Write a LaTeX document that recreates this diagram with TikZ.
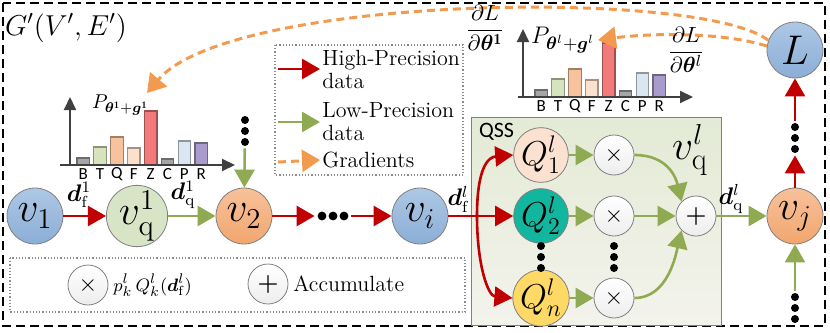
\documentclass[tikz,border=0pt]{standalone}
\usepackage{amsmath}
\usepackage{bm}
\usepackage{fontspec}
\newfontfamily\barfont{Carlito}
\usetikzlibrary{arrows.meta,calc}

\definecolor{hpred}{HTML}{C00000}
\definecolor{lpgreen}{HTML}{8FAA52}
\definecolor{gradorange}{HTML}{F29B4F}
\definecolor{nblueT}{HTML}{AEC7E5}
\definecolor{nblueB}{HTML}{8BAED7}
\definecolor{ngreen}{HTML}{D8E4C6}
\definecolor{norangeT}{HTML}{F7C19A}
\definecolor{norangeB}{HTML}{F2A66F}
\definecolor{qpeach}{HTML}{FBE1CF}
\definecolor{qteal}{HTML}{12B59D}
\definecolor{qyellow}{HTML}{FFD966}
\definecolor{qssT}{HTML}{E3EAD5}
\definecolor{qssB}{HTML}{F3F3EC}
\definecolor{barB}{HTML}{A6A6A6}
\definecolor{barT}{HTML}{D6E3BE}
\definecolor{barQ}{HTML}{F6C39E}
\definecolor{barF}{HTML}{FBE1CC}
\definecolor{barZ}{HTML}{F37A7A}
\definecolor{barP}{HTML}{DAE6F2}
\definecolor{barR}{HTML}{A99BCB}

% bars of one selection histogram, #1 name prefix, #2 offset of the y axis
\newcommand{\drawhist}[2]{%
  \foreach \lab/\h/\col [count=\i from 0] in {B/7/barB,T/18/barT,Q/28/barQ,F/17/barF,Z/54/barZ,C/6/barB,P/24/barP,R/22/barR}{
    \draw[draw=\col!65!black, fill=\col, line width=0.6pt] (\i*16.85,0) rectangle ++(12.5,-\h);
    \node[barlab] (#1-\lab) at (\i*16.85+6.25,9) {\lab};
  }
  \draw[axis] (#2,0) -- (#2,-68);
  \draw[axis] (-17,0) -- (158,0);
}

\begin{document}
\begin{tikzpicture}[x=0.5pt, y=-0.5pt,
  font=\fontsize{11}{11.5}\selectfont,
  vnode/.style={circle, draw=black!50, minimum size=28pt, inner sep=0pt, font=\fontsize{21}{24}\selectfont},
  vblue/.style={vnode, top color=nblueT, bottom color=nblueB},
  vgreen/.style={vnode, fill=ngreen},
  vorange/.style={vnode, top color=norangeT, bottom color=norangeB},
  qnode/.style={circle, draw=black!50, minimum size=23pt, inner sep=0pt, font=\fontsize{17}{19}\selectfont},
  opnode/.style={circle, draw=black!50, top color=white, bottom color=black!7, minimum size=20pt, inner sep=0pt, font=\large},
  hp/.style={draw=hpred, line width=1.3pt, -{Triangle[length=9pt,width=10pt]}},
  lp/.style={draw=lpgreen, line width=1.3pt, -{Triangle[length=9pt,width=10pt]}},
  grad/.style={draw=gradorange, line width=1.5pt, dash pattern=on 4pt off 2.5pt, -{Triangle[length=9pt,width=11pt]}},
  axis/.style={draw=black!75, line width=1pt, -{Triangle[length=6.5pt,width=6pt]}},
  barlab/.style={font=\barfont\fontsize{8.5}{9}\selectfont, inner sep=0pt},
  dlab/.style={font=\fontsize{12}{14}\selectfont, inner sep=0pt},
  lbox/.style={draw=black!45, densely dotted, line width=0.6pt},
  dotsv/.style={minimum width=6pt, minimum height=17pt, inner sep=0pt,
    path picture={\foreach \k in {-1,0,1} \fill ($(path picture bounding box.center)+(0,\k*11)$) circle (2pt);}},
  dotsh/.style={minimum width=18pt, minimum height=6pt, inner sep=0pt,
    path picture={\foreach \k in {-1,0,1} \fill ($(path picture bounding box.center)+(\k*11,0)$) circle (2.2pt);}},
]
\useasboundingbox (0,0) rectangle (830,332);
\draw[line width=1pt, dash pattern=on 4.5pt off 2.5pt] (3,3) rectangle (825,326);
\node (gname) at (66,28) {\fontsize{14}{16}\selectfont $G'(V',E')$};

% legend of the connectors
\draw[lbox] (275,45) rectangle (463,175);
\coordinate (lg1) at (278,69);
\coordinate (lg2) at (278,122);
\coordinate (lg3) at (278,162);
\node[anchor=west, align=left, inner sep=1pt] (tx1) at (320,69) {High-Precision\\data};
\node[anchor=west, align=left, inner sep=1pt] (tx2) at (320,122) {Low-Precision\\data};
\node[anchor=west, inner sep=1pt] (tx3) at (320,160) {Gradients};
\draw[hp] (lg1) -- (tx1.west);
\draw[lp] (lg2) -- (tx2.west);
\draw[grad] (lg3) -- (tx3.west);

% legend of the operators
\draw[lbox] (10,258) rectangle (465,312);
\node[opnode] (lmul) at (88,285) {$\times$};
\node[anchor=west, inner sep=1pt] (lmultx) at (111,285) {\fontsize{9.5}{11}\selectfont $p_k^l\,Q_k^l(\bm{d}_{\mathrm{f}}^l)$};
\node[opnode] (lacc) at (268,284) {$\bm{+}$};
\node[anchor=west, inner sep=1pt] (lacctx) at (291,284) {Accumulate};

% histograms
\begin{scope}[shift={(77,165)}]
  \drawhist{ha}{-7}
\end{scope}
\node[anchor=west] (pa) at (85,105) {\fontsize{10}{12}\selectfont $P_{\bm{\theta}^{\mathbf{1}}+\bm{g}^{\mathbf{1}}}$};
\begin{scope}[shift={(535,97)}]
  \drawhist{hb}{-12}
\end{scope}
\node[anchor=west] (pb) at (524,40) {\fontsize{13}{15}\selectfont $P_{\bm{\theta}^{l}+\bm{g}^{l}}$};

% QSS block
\draw[draw=black!50, top color=qssT, bottom color=qssB] (471,117) rectangle (721,325);
\node[anchor=west, font=\barfont\fontsize{11}{12}\selectfont] (qss) at (472,132) {QSS};
\node[font=\fontsize{22}{24}\selectfont] (vql) at (690,150) {$v_{\mathrm{q}}^{l}$};

% main chain
\node[vblue]   (v1)  at (35,216)  {$v_1$};
\node[vgreen]  (vq1) at (137,216) {$v_{\mathrm{q}}^{1}$};
\node[vorange] (v2)  at (244,216) {$v_2$};
\node[dotsh]   (hd)  at (333,216) {};
\node[vblue]   (vi)  at (420,216) {$v_i$};
\node[dotsv]   (d2)  at (245,131) {};

\node[qnode, fill=qpeach]  (Q1) at (541,155) {$Q_1^l$};
\node[qnode, fill=qteal]   (Q2) at (541,216) {$Q_2^l$};
\node[qnode, fill=qyellow] (Qn) at (541,298) {$Q_n^l$};
\node[dotsv] (Qd) at (541,257) {};
\node[opnode] (m1) at (614,155) {$\times$};
\node[opnode] (m2) at (614,216) {$\times$};
\node[opnode] (mn) at (614,298) {$\times$};
\node[dotsv] (md) at (614,257) {};
\node[opnode] (acc) at (696,216) {$\bm{+}$};

\node[vorange] (vj) at (795,216) {$v_j$};
\node[dotsv] (jup) at (795,138) {};
\node[dotsv] (jdn) at (795,308) {};
\node[vblue] (L) at (795,50) {$L$};

\draw[hp] (v1) -- (vq1);
\draw[lp] (vq1) -- (v2);
\node[dlab] (df1) at (79,195) {$\bm{d}_{\mathrm{f}}^{1}$};
\node[dlab] (dq1) at (183,195) {$\bm{d}_{\mathrm{q}}^{1}$};
\draw[lp] (d2) -- (v2);
\draw[hp] (v2) -- (hd);
\draw[hp] (hd) -- (vi);

% inside QSS
\coordinate (br) at (477,216);
\draw[hp] (vi) -- (Q2);
\node[dlab] (dfl) at (458,199) {$\bm{d}_{\mathrm{f}}^{l}$};
\draw[hp] (br) .. controls (477,168) and (488,157) .. (Q1.west);
\draw[hp] (br) .. controls (477,265) and (488,296) .. (Qn.west);
\draw[lp] (Q1) -- (m1);
\draw[lp] (Q2) -- (m2);
\draw[lp] (Qn) -- (mn);
\draw[lp] (m1.east) .. controls (668,155) and (676,178) .. (acc.north west);
\draw[lp] (m2) -- (acc);
\draw[lp] (mn.east) .. controls (668,298) and (676,254) .. (acc.south west);

\draw[lp] (acc) -- (vj);
\node[dlab] (dql) at (731,199) {$\bm{d}_{\mathrm{q}}^{l}$};
\draw[hp] (vj) -- (jup);
\draw[hp] (jup) -- (L);
\draw[lp] (jdn) -- (vj);

% gradients back to the selections
\coordinate (ta) at (147,93);
\coordinate (tb) at (598,40);
\draw[grad] (L.160) .. controls (700,-12) and (230,-5) .. (ta);
\draw[grad] (L.172) .. controls (722,32) and (652,33) .. (tb);
\node (ga) at (485,28) {$\dfrac{\partial L}{\partial \bm{\theta}^{\mathbf{1}}}$};
\node (gb) at (686,50) {$\dfrac{\partial L}{\partial \bm{\theta}^{l}}$};
\end{tikzpicture}
\end{document}
